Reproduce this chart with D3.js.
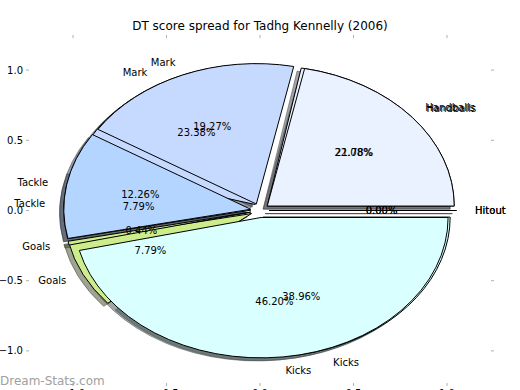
<!DOCTYPE html>
<html>
<head>
<meta charset="utf-8">
<script src="https://cdn.jsdelivr.net/npm/d3@7"></script>
<style>
  body { margin: 0; background: #fff; }
  text { font-family: "DejaVu Sans", sans-serif; }
</style>
</head>
<body>
<svg id="chart" width="520" height="390"></svg>
<script>
// categories in the order matplotlib lays them out (ccw from 3 o'clock)
var categories = ["Hitout", "Handballs", "Mark", "Tackle", "Goals", "Kicks"];
// the pie drawn first (ends up underneath)
var lowerPct = [0.00, 22.08, 23.38, 7.79, 7.79, 38.96];
// the pie drawn second (on top)
var upperPct = [0.00, 21.78, 19.27, 12.26, 0.44, 46.20];
var sliceColors = ["#ffd8d8", "#eaf1ff", "#c6d9ff", "#b4d5ff", "#cdec8c", "#d9ffff"];
var tickVals = [-1.0, -0.5, 0.0, 0.5, 1.0];

var explode = 0.05,
    shadowOff = -0.022;

var svg = d3.select("#chart");

var x = d3.scaleLinear().domain([-1.25, 1.25]).range([26.25, 493.75]);
var y = d3.scaleLinear().domain([-1.25, 1.25]).range([386, 35]);
var sx = x(1) - x(0), sy = y(0) - y(1);

// title
svg.append("text")
  .attr("x", 260).attr("y", 30)
  .attr("text-anchor", "middle")
  .style("font-size", "12px")
  .text("DT score spread for Tadhg Kennelly (2006)");

// ticks (inward, light grey, no spines)
var tickG = svg.append("g").attr("stroke", "#b0b0b0").attr("stroke-width", 1);
tickVals.forEach(function(v) {
  tickG.append("line").attr("x1", 26).attr("x2", 29).attr("y1", y(v)).attr("y2", y(v));
  tickG.append("line").attr("x1", 494).attr("x2", 491).attr("y1", y(v)).attr("y2", y(v));
  tickG.append("line").attr("x1", x(v)).attr("x2", x(v)).attr("y1", 35).attr("y2", 38);
  tickG.append("line").attr("x1", x(v)).attr("x2", x(v)).attr("y1", 386).attr("y2", 383);
});
var fmtTick = function(v) { return (v < 0 ? "\u2212" : "") + Math.abs(v).toFixed(1); };
svg.selectAll(".ylab").data(tickVals).enter().append("text")
  .attr("class", "ylab")
  .attr("x", 23).attr("y", function(d) { return y(d); })
  .attr("dy", "0.35em")
  .attr("text-anchor", "end")
  .style("font-size", "10px")
  .text(fmtTick);
svg.selectAll(".xlab").data(tickVals).enter().append("text")
  .attr("class", "xlab")
  .attr("x", function(d) { return x(d); }).attr("y", 397)
  .attr("text-anchor", "middle")
  .style("font-size", "10px")
  .text(fmtTick);

// matplotlib angle 0 = 3 o'clock going ccw -> d3 start at pi/2 going negative
var pie = d3.pie().sort(null).value(function(d) { return d; })
  .startAngle(Math.PI / 2).endAngle(Math.PI / 2 - 2 * Math.PI);
var arc = d3.arc().innerRadius(0).outerRadius(1);

var midTheta = function(d) { return Math.PI / 2 - (d.startAngle + d.endAngle) / 2; };

var lowerArcs = pie(lowerPct), upperArcs = pie(upperPct);

var wedgeTransform = function(d, off) {
  var t = midTheta(d);
  var cx = explode * Math.cos(t) + off, cy = explode * Math.sin(t) + off;
  return "translate(" + x(cx) + "," + y(cy) + ") scale(" + sx + "," + sy + ")";
};

var darken = function(c) {
  var r = d3.rgb(c);
  return d3.rgb(r.r * 0.3, r.g * 0.3, r.b * 0.3).toString();
};

// all shadows sit below all wedges (lower zorder)
[lowerArcs, upperArcs].forEach(function(arcs) {
  svg.append("g").selectAll("path").data(arcs).enter().append("path")
    .attr("d", arc)
    .attr("transform", function(d) { return wedgeTransform(d, shadowOff); })
    .attr("fill", function(d, i) { return darken(sliceColors[i]); })
    .attr("stroke", function(d, i) { return darken(sliceColors[i]); })
    .attr("fill-opacity", 0.5).attr("stroke-opacity", 0.5)
    .attr("vector-effect", "non-scaling-stroke")
    .attr("stroke-width", 1);
});

[lowerArcs, upperArcs].forEach(function(arcs) {
  svg.append("g").selectAll("path").data(arcs).enter().append("path")
    .attr("d", arc)
    .attr("transform", function(d) { return wedgeTransform(d, 0); })
    .attr("fill", function(d, i) { return sliceColors[i]; })
    .attr("stroke", "#000")
    .attr("vector-effect", "non-scaling-stroke")
    .attr("stroke-width", 1);
});

// labels and percentages
[lowerArcs, upperArcs].forEach(function(arcs) {
  var g = svg.append("g").style("font-size", "10px");
  arcs.forEach(function(d, i) {
    var t = midTheta(d);
    var lx = (1.1 + explode) * Math.cos(t), ly = (1.1 + explode) * Math.sin(t);
    g.append("text")
      .attr("x", x(lx)).attr("y", y(ly))
      .attr("dy", "0.35em")
      .attr("text-anchor", lx > 0 ? "start" : "end")
      .text(categories[i]);
    var px = (0.6 + explode) * Math.cos(t), py = (0.6 + explode) * Math.sin(t);
    g.append("text")
      .attr("x", x(px)).attr("y", y(py))
      .attr("dy", "0.35em")
      .attr("text-anchor", "middle")
      .text(d.data.toFixed(2) + "%");
  });
});

// watermark
svg.append("text")
  .attr("x", 0).attr("y", 385)
  .style("font-size", "12px")
  .attr("fill", "#a0a0a0")
  .text("Dream-Stats.com");
</script>
</body>
</html>
